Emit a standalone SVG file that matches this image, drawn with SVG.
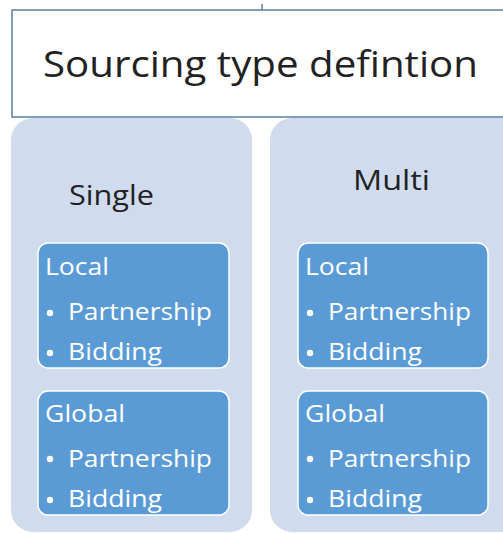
<svg xmlns="http://www.w3.org/2000/svg" width="503" height="533" viewBox="0 0 503 533">
<style>
.title{font-family:"Open Sans","Liberation Sans",sans-serif;font-size:37px;fill:#222}
.head{font-family:"Open Sans","Liberation Sans",sans-serif;font-size:28px;fill:#222}
.panel{fill:#d0dcee}
.inner{fill:#5b9bd5;stroke:#ffffff;stroke-width:1.5}
.it{font-family:"Open Sans","DejaVu Sans",sans-serif;font-size:24px;fill:#ffffff}
.bul{fill:#ffffff}
</style>
<defs>
<clipPath id="cL1"><rect x="38" y="243" width="191" height="125" rx="10"/></clipPath>
<clipPath id="cL2"><rect x="38" y="391" width="191" height="124" rx="10"/></clipPath>
<clipPath id="cR1"><rect x="298" y="243" width="190" height="125" rx="10"/></clipPath>
<clipPath id="cR2"><rect x="298" y="391" width="190" height="124" rx="10"/></clipPath>
</defs>
<rect width="503" height="533" fill="#ffffff"/>
<g id="connectors">
<line x1="262" y1="4" x2="262" y2="10" stroke="#5b7fa6" stroke-width="1.5"/>
</g>
<g id="panel-single">
<rect class="panel" x="11" y="118" width="241" height="414" rx="22"/>
<text class="head" x="69" y="205" textLength="85" lengthAdjust="spacingAndGlyphs">Single</text>
</g>
<g id="panel-multi">
<rect class="panel" x="270" y="118" width="260" height="414" rx="22"/>
<text class="head" x="353" y="190" textLength="77" lengthAdjust="spacingAndGlyphs">Multi</text>
</g>
<g id="title">
<rect x="12" y="10" width="500" height="107" fill="#ffffff" stroke="#5b7fa6" stroke-width="1.5"/>
<text class="title" x="43" y="77" textLength="435" lengthAdjust="spacingAndGlyphs">Sourcing type defintion</text>
</g>
<g id="single-local">
<rect class="inner" x="38" y="243" width="191" height="125" rx="10"/>
<g clip-path="url(#cL1)">
<text class="it" x="45" y="275" textLength="64" lengthAdjust="spacingAndGlyphs">Local</text>
<circle class="bul" cx="50" cy="313" r="3.2"/>
<text class="it" x="68" y="320" textLength="144" lengthAdjust="spacingAndGlyphs">Partnership</text>
<circle class="bul" cx="50" cy="353" r="3.2"/>
<text class="it" x="68" y="360" textLength="94" lengthAdjust="spacingAndGlyphs">Bidding</text>
</g>
</g>
<g id="single-global">
<rect class="inner" x="38" y="391" width="191" height="124" rx="10"/>
<g clip-path="url(#cL2)">
<text class="it" x="45" y="422" textLength="80" lengthAdjust="spacingAndGlyphs">Global</text>
<circle class="bul" cx="50" cy="459" r="3.2"/>
<text class="it" x="68" y="467" textLength="144" lengthAdjust="spacingAndGlyphs">Partnership</text>
<circle class="bul" cx="50" cy="500" r="3.2"/>
<text class="it" x="68" y="507" textLength="94" lengthAdjust="spacingAndGlyphs">Bidding</text>
</g>
</g>
<g id="multi-local">
<rect class="inner" x="298" y="243" width="190" height="125" rx="10"/>
<g clip-path="url(#cR1)">
<text class="it" x="305" y="275" textLength="64" lengthAdjust="spacingAndGlyphs">Local</text>
<circle class="bul" cx="310" cy="313" r="3.2"/>
<text class="it" x="328" y="320" textLength="143" lengthAdjust="spacingAndGlyphs">Partnership</text>
<circle class="bul" cx="310" cy="353" r="3.2"/>
<text class="it" x="328" y="360" textLength="94" lengthAdjust="spacingAndGlyphs">Bidding</text>
</g>
</g>
<g id="multi-global">
<rect class="inner" x="298" y="391" width="190" height="124" rx="10"/>
<g clip-path="url(#cR2)">
<text class="it" x="305" y="422" textLength="80" lengthAdjust="spacingAndGlyphs">Global</text>
<circle class="bul" cx="310" cy="459" r="3.2"/>
<text class="it" x="328" y="467" textLength="143" lengthAdjust="spacingAndGlyphs">Partnership</text>
<circle class="bul" cx="310" cy="500" r="3.2"/>
<text class="it" x="328" y="507" textLength="94" lengthAdjust="spacingAndGlyphs">Bidding</text>
</g>
</g>
</svg>
